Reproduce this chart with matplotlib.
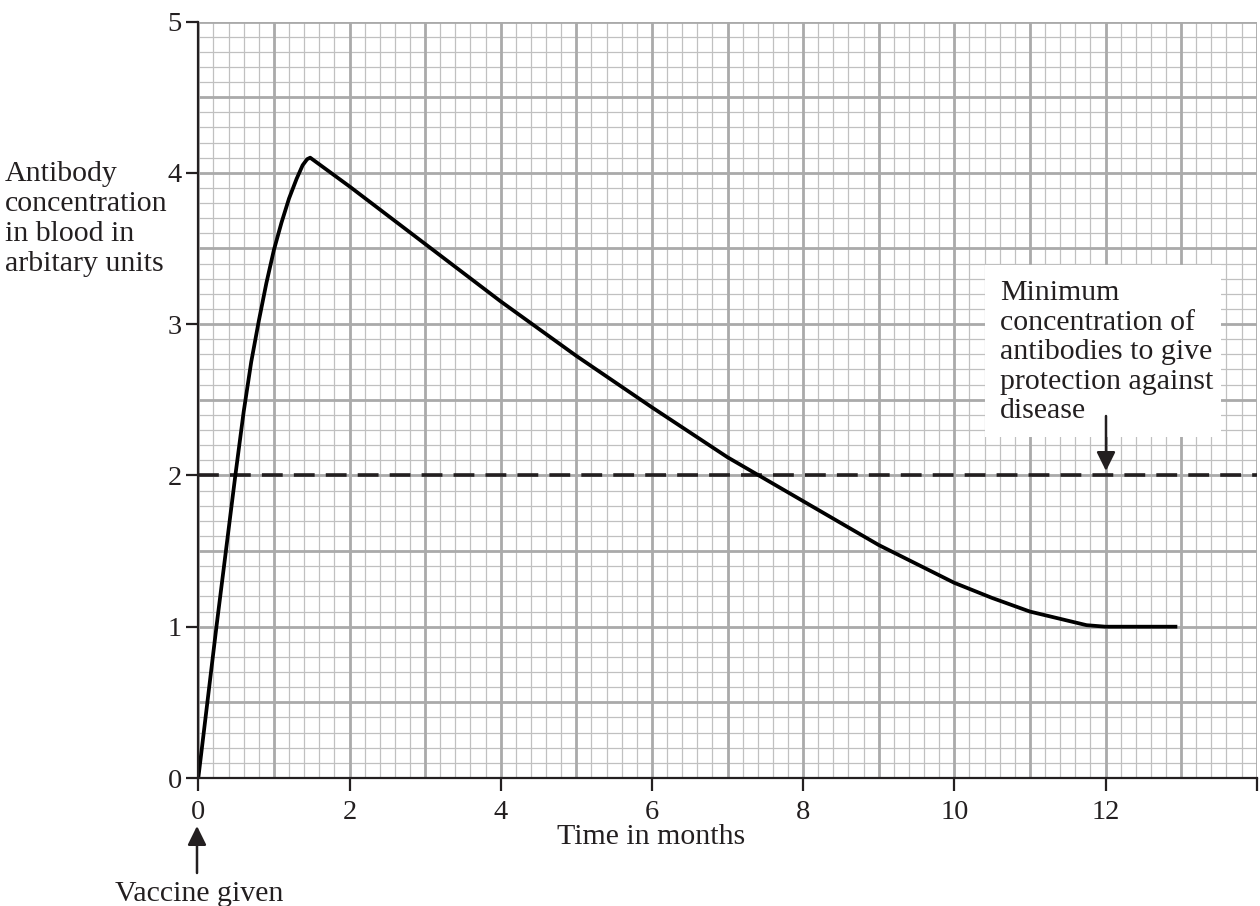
import numpy as np
import matplotlib
matplotlib.use("Agg")
import matplotlib.pyplot as plt
from matplotlib.patches import Rectangle

# ---- data ----
time_months = [0, 0.24, 0.49, 0.6, 0.7, 0.8, 0.9, 1.0, 1.1, 1.2, 1.3, 1.38, 1.44, 1.48,
               2, 3, 4, 5, 6, 7, 8, 9, 10, 10.5, 11, 11.5, 11.75, 12, 12.95]
antibody = [0, 1.0, 2.0, 2.42, 2.75, 3.02, 3.27, 3.49, 3.67, 3.83, 3.96, 4.05, 4.09, 4.10,
            3.91, 3.53, 3.15, 2.79, 2.45, 2.12, 1.83, 1.54, 1.29, 1.19, 1.10, 1.04, 1.01, 1.0, 1.0]
threshold = 2.0
x_ticks = [0, 2, 4, 6, 8, 10, 12, 14]
x_tick_labels = ["0", "2", "4", "6", "8", "10", "12", ""]
y_ticks = [0, 1, 2, 3, 4, 5]
y_tick_labels = ["0", "1", "2", "3", "4", "5"]

W, H = 1260, 906
plt.rcParams['font.family'] = ['Liberation Serif', 'DejaVu Serif']
plt.rcParams['lines.scale_dashes'] = False

fig = plt.figure(figsize=(W / 100, H / 100), dpi=100)
fig.patch.set_facecolor('white')


def fx(px):
    return px / W


def fy(py):
    return 1 - py / H


ax = fig.add_axes([fx(198.3), fy(778), fx(1256.7) - fx(198.3), fy(21.5) - fy(778)])
ax.set_xlim(0, 14)
ax.set_ylim(0, 5)

# graph-paper grid
minor_x = np.arange(0, 14.001, 0.2)
minor_y = np.arange(0, 5.001, 0.1)
major_x = np.arange(0, 14.001, 1)
major_y = np.arange(0, 5.001, 0.5)
ax.vlines(minor_x, 0, 5, colors='#c0c0c0', linewidth=0.9, zorder=0.5)
ax.hlines(minor_y, 0, 14, colors='#c0c0c0', linewidth=0.9, zorder=0.5)
ax.vlines(major_x, 0, 5, colors='#aaaaaa', linewidth=2.0, zorder=0.6)
ax.hlines(major_y, 0, 14, colors='#aaaaaa', linewidth=2.0, zorder=0.6)

# white box behind annotation text
ax.add_patch(Rectangle((fx(985), fy(437)), fx(1221) - fx(985), fy(265) - fy(437),
                       transform=fig.transFigure, facecolor='white', edgecolor='none',
                       zorder=1, clip_on=False))

# threshold line
ax.plot([0, 14], [threshold, threshold], color='#231f20', linewidth=2.6,
        dashes=(15, 8), zorder=2, dash_capstyle='butt')

# curve
ax.plot(time_months, antibody, color='black', linewidth=2.7, zorder=3,
        solid_joinstyle='round', solid_capstyle='butt')

# axes styling
for s in ['top', 'right']:
    ax.spines[s].set_visible(False)
for s in ['left', 'bottom']:
    ax.spines[s].set_linewidth(1.6)
    ax.spines[s].set_color('#231f20')
    ax.spines[s].set_zorder(4)
ax.set_xticks(x_ticks)
ax.set_xticklabels(x_tick_labels)
ax.set_yticks(y_ticks)
ax.set_yticklabels(y_tick_labels)
ax.tick_params(axis='both', direction='out', length=9, width=1.6, color='#231f20',
               labelsize=20.5, labelcolor='#231f20')
ax.tick_params(axis='x', pad=6.5)
ax.tick_params(axis='y', pad=3)

txt_kw = dict(fontsize=21.5, color='#231f20')
fig.text(fx(5), fy(161), "Antibody\nconcentration\nin blood in\narbitary units",
         ha='left', va='top', linespacing=1.2, **txt_kw)
fig.text(fx(651), fy(837), "Time in months", ha='center', va='center', **txt_kw)
fig.text(fx(199), fy(894), "Vaccine given", ha='center', va='center', **txt_kw)
fig.text(fx(1000), fy(280), "Minimum\nconcentration of\nantibodies to give\nprotection against\ndisease",
         ha='left', va='top', linespacing=1.18, zorder=5, **txt_kw)

arrow_kw = dict(arrowstyle='-|>,head_length=0.85,head_width=0.42', color='#231f20',
                lw=1.8, shrinkA=0, shrinkB=0, mutation_scale=13.5)
ax.annotate('', xy=(fx(197), fy(826)), xytext=(fx(197), fy(873)),
            xycoords='figure fraction', textcoords='figure fraction',
            arrowprops=arrow_kw, annotation_clip=False)
ax.annotate('', xy=(fx(1106), fy(471)), xytext=(fx(1106), fy(416)),
            xycoords='figure fraction', textcoords='figure fraction',
            arrowprops=arrow_kw, annotation_clip=False)

fig.savefig('out.png', dpi=100, facecolor='white')
